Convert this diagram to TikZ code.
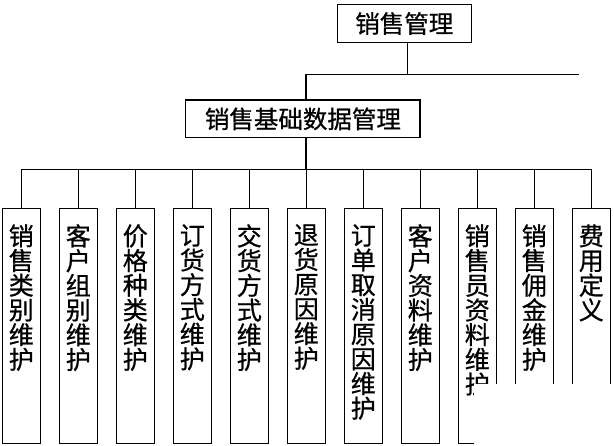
\documentclass[tikz,border=0pt]{standalone}
\usepackage{fontspec}
\newfontfamily\cjk[FakeBold=0.7]{Noto Sans CJK SC}
\usetikzlibrary{calc}
\newcommand{\leafbox}[1]{\parbox[b][235pt][t]{38pt}{\centering\cjk\fontsize{25}{24.7}\selectfont\lineskiplimit=-20pt\vspace*{16pt}#1\par}}
\tikzset{
  ln/.style={line width=1.2pt},
  topbox/.style={draw, line width=1.2pt, inner sep=0pt, font=\cjk\fontsize{24.5}{26}\selectfont},
  leaf/.style={draw, line width=1.2pt, inner sep=0pt, anchor=north},
}
\begin{document}
\begin{tikzpicture}[x=1pt,y=-1pt]
\useasboundingbox (0,0) rectangle (614,446);
\node[topbox, minimum width=134pt, minimum height=38.4pt] (root) at (404.3,23.5) {销售管理};
\node[topbox, minimum width=234.3pt, minimum height=37.7pt] (sub) at (302.9,118.9) {销售基础数据管理};
\coordinate (j1) at (407.7,74.3);
\coordinate (j2) at (306,74.3);
\coordinate (jr) at (579,74.3);
\coordinate (busL) at (21.3,169.3);
\coordinate (busR) at (591.3,169.3);
\draw[ln] (root.south -| j1) -- (j1);
\draw[ln] (j2) -- (jr);
\draw[ln] (j2) -- (j2 |- sub.north);
\draw[ln] (sub.south -| j2) -- (j2 |- busL);
\draw[ln] (busL) -- (busR);
\node[leaf] (l0) at (21.3,207.7) {\leafbox{销\\售\\类\\别\\维\\护}};
\node[leaf] (l1) at (78.3,207.7) {\leafbox{客\\户\\组\\别\\维\\护}};
\node[leaf] (l2) at (135.3,207.7) {\leafbox{价\\格\\种\\类\\维\\护}};
\node[leaf] (l3) at (192.3,207.7) {\leafbox{订\\货\\方\\式\\维\\护}};
\node[leaf] (l4) at (249.3,207.7) {\leafbox{交\\货\\方\\式\\维\\护}};
\node[leaf] (l5) at (306.3,207.7) {\leafbox{退\\货\\原\\因\\维\\护}};
\node[leaf] (l6) at (363.3,207.7) {\leafbox{订\\单\\取\\消\\原\\因\\维\\护}};
\node[leaf] (l7) at (420.3,207.7) {\leafbox{客\\户\\资\\料\\维\\护}};
\node[leaf] (l8) at (477.3,207.7) {\leafbox{销\\售\\员\\资\\料\\维\\护}};
\node[leaf] (l9) at (534.3,207.7) {\leafbox{销\\售\\佣\\金\\维\\护}};
\node[leaf] (l10) at (591.3,207.7) {\leafbox{费\\用\\定\\义}};
\foreach \i in {0,...,10} {\draw[ln] (l\i.north) -- (l\i.north |- busL);}
\fill[white] (474,384.3) rectangle (615,447);
\end{tikzpicture}
\end{document}
